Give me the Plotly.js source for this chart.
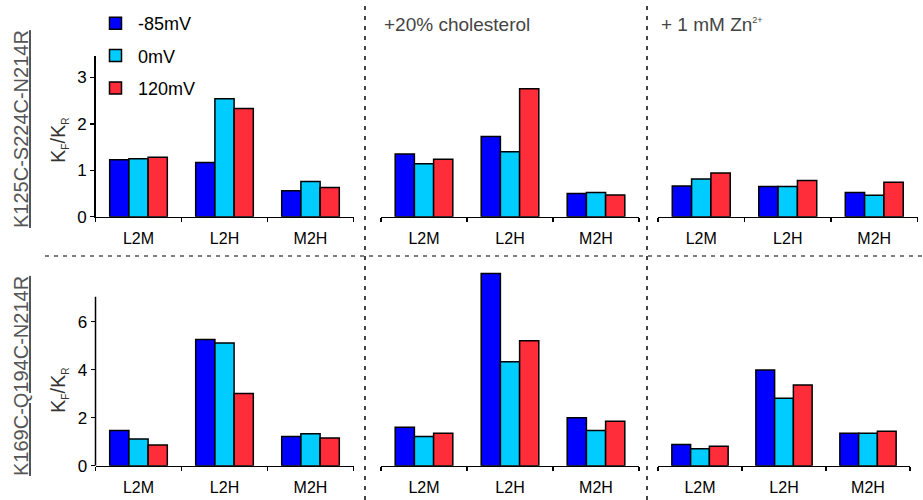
<!DOCTYPE html>
<html>
<head>
<meta charset="utf-8">
<script src="https://cdn.plot.ly/plotly-3.0.1.min.js"></script>
<style>html,body{margin:0;padding:0;background:#fff;}#chart{width:923px;height:500px;}</style>
</head>
<body>
<div id="chart"></div>
<script>
const categories = ['L2M', 'L2H', 'M2H'];
const seriesNames = ['-85mV', '0mV', '120mV'];
const seriesColors = ['#0000FF', '#00CCFF', '#FF2D3A'];
const panelTitles = ['', '+20% cholesterol', '+ 1 mM Zn<sup><span style="font-size:9px">2+</span></sup>'];
const rowLabels = ['K125C-S224C-N214R', 'K169C-Q194C-N214R'];
const yTitle = 'K<sub><span style="font-size:10px">F</span></sub>/K<sub><span style="font-size:10px">R</span></sub>';

// Row 1: K125C-S224C-N214R  [control, cholesterol, Zn]
const top_ctrl_m85 = [1.23, 1.17, 0.56];
const top_ctrl_0   = [1.25, 2.54, 0.76];
const top_ctrl_120 = [1.28, 2.33, 0.63];
const top_chol_m85 = [1.35, 1.73, 0.50];
const top_chol_0   = [1.14, 1.40, 0.52];
const top_chol_120 = [1.24, 2.76, 0.47];
const top_zn_m85   = [0.66, 0.65, 0.52];
const top_zn_0     = [0.81, 0.65, 0.46];
const top_zn_120   = [0.94, 0.78, 0.74];
// Row 2: K169C-Q194C-N214R
const bot_ctrl_m85 = [1.47, 5.26, 1.22];
const bot_ctrl_0   = [1.11, 5.11, 1.33];
const bot_ctrl_120 = [0.86, 3.01, 1.15];
const bot_chol_m85 = [1.60, 8.01, 2.00];
const bot_chol_0   = [1.22, 4.33, 1.47];
const bot_chol_120 = [1.35, 5.21, 1.85];
const bot_zn_m85   = [0.88, 3.99, 1.35];
const bot_zn_0     = [0.71, 2.81, 1.35];
const bot_zn_120   = [0.81, 3.36, 1.44];

const panels = [
  [top_ctrl_m85, top_ctrl_0, top_ctrl_120],
  [top_chol_m85, top_chol_0, top_chol_120],
  [top_zn_m85, top_zn_0, top_zn_120],
  [bot_ctrl_m85, bot_ctrl_0, bot_ctrl_120],
  [bot_chol_m85, bot_chol_0, bot_chol_120],
  [bot_zn_m85, bot_zn_0, bot_zn_120]
];

const W = 923, H = 500;
const px = v => v / W;
const py = v => (H - v) / H;

const FONT = 'Liberation Sans, Arial, sans-serif';
const traces = [];
panels.forEach((p, i) => {
  const ax = i === 0 ? '' : String(i + 1);
  p.forEach((vals, s) => {
    traces.push({
      type: 'bar', x: categories, y: vals, name: seriesNames[s],
      xaxis: 'x' + ax, yaxis: 'y' + ax,
      marker: {color: seriesColors[s], line: {color: '#000', width: 1.5}},
      showlegend: i === 0, legendgroup: 'g' + s,
      hoverinfo: 'skip'
    });
  });
});

const xDomains = [
  [px(95.5), px(353.5)], [px(381), px(639)], [px(658), px(917.5)],
  [px(95.5), px(353.5)], [px(381), px(639)], [px(658), px(910)]
];
const topY = [py(216.7), py(56)];
const botY = [py(465.7), py(268)];
const topRange = [0, (216.7 - 56) / 46.4];
const botRange = [0, (465.7 - 268) / 24];

const layout = {
  width: W, height: H,
  margin: {l: 0, r: 0, t: 0, b: 0},
  paper_bgcolor: '#fff', plot_bgcolor: 'rgba(0,0,0,0)',
  font: {family: FONT, color: '#000', size: 16},
  barmode: 'group', bargap: 0.33, bargroupgap: 0,
  showlegend: true,
  legend: {
    x: px(93), y: py(5), xanchor: 'left', yanchor: 'top',
    font: {size: 18, color: '#000'}, traceorder: 'grouped', tracegroupgap: 6,
    bgcolor: 'rgba(0,0,0,0)', itemwidth: 35
  },
  shapes: [
    {type: 'line', xref: 'paper', yref: 'paper', x0: px(45), x1: 1, y0: py(256), y1: py(256),
     line: {color: '#555', width: 1.6, dash: '4px,5px'}},
    {type: 'line', xref: 'paper', yref: 'paper', x0: px(365), x1: px(365), y0: 0, y1: 1,
     line: {color: '#444', width: 2, dash: '4px,6px'}},
    {type: 'line', xref: 'paper', yref: 'paper', x0: px(647), x1: px(647), y0: 0, y1: 1,
     line: {color: '#444', width: 2, dash: '4px,6px'}},
    {type: 'line', xref: 'x4 domain', yref: 'y4', x0: 0, x1: 0, y0: 0, y1: 7.04,
     line: {color: '#000', width: 1.5}}
  ],
  annotations: []
};

for (let i = 0; i < 6; i++) {
  const ax = i === 0 ? '' : String(i + 1);
  const isTop = i < 3;
  layout['xaxis' + ax] = {
    domain: xDomains[i], anchor: 'y' + ax, type: 'category',
    showline: true, linecolor: '#000', linewidth: 1.5,
    ticks: 'outside', tickson: 'boundaries', ticklen: 4, tickwidth: 1.5, tickcolor: '#000',
    showgrid: false, zeroline: false, fixedrange: true,
    tickfont: {size: 16, family: FONT}, ticklabelstandoff: 7
  };
  const first = (i % 3) === 0;
  layout['yaxis' + ax] = {
    domain: isTop ? topY : botY, anchor: 'x' + ax,
    range: isTop ? topRange : botRange,
    showline: isTop && first, linecolor: '#000', linewidth: 1.5,
    ticks: first ? 'outside' : '', ticklen: 4, tickwidth: 1.5, tickcolor: '#000',
    showticklabels: first, tickvals: isTop ? [0, 1, 2, 3] : [0, 2, 4, 6],
    showgrid: false, zeroline: false, fixedrange: true,
    tickfont: {size: 17, family: FONT}
  };
}

// y titles
[[py(140)], [py(390)]].forEach((v) => {
  layout.annotations.push({
    xref: 'paper', yref: 'paper', x: px(59), y: v[0], xanchor: 'center', yanchor: 'middle',
    text: yTitle, textangle: -90, showarrow: false, font: {size: 20, color: '#333', family: FONT}
  });
});
// row labels
[[py(129), rowLabels[0]], [py(376), rowLabels[1]]].forEach((v) => {
  layout.annotations.push({
    xref: 'paper', yref: 'paper', x: px(21), y: v[0], xanchor: 'center', yanchor: 'middle',
    text: '<u>' + v[1] + '</u>', textangle: -90, showarrow: false,
    font: {size: 20, color: '#555', family: FONT}
  });
});
// panel titles
[[px(382), panelTitles[1]], [px(659), panelTitles[2]]].forEach((v) => {
  layout.annotations.push({
    xref: 'paper', yref: 'paper', x: v[0], y: py(24), xanchor: 'left', yanchor: 'middle',
    text: v[1], showarrow: false, font: {size: 19, color: '#444', family: FONT}
  });
});

Plotly.newPlot('chart', traces, layout, {displayModeBar: false, staticPlot: true});
</script>
</body>
</html>
